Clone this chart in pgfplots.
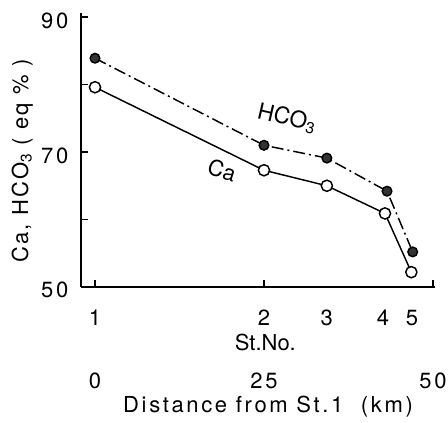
\documentclass[border=0pt]{standalone}
\usepackage{pgfplots}
\pgfplotsset{compat=1.18}
\usepackage{fontspec}
\setmainfont{TeX Gyre Heros}
\newfontfamily\spaced[LetterSpace=12]{TeX Gyre Heros}
\newfontfamily\spacedb[LetterSpace=10]{TeX Gyre Heros}
\newcommand\fs{\fontsize{16.5}{19}\selectfont}
\tikzset{stlab/.style={font=\fs\spaced, anchor=base, yshift=-28.5pt}}
\begin{document}
\begin{tikzpicture}
\useasboundingbox (-60.75pt,-102pt) rectangle (275.25pt,215.25pt);
\begin{axis}[
  at={(0,0)}, anchor=south west,
  scale only axis, width=265.5pt, height=205.5pt,
  xmin=-2.07, xmax=50.3, ymin=50, ymax=90.6,
  axis lines=left, axis line style={-, line width=1.2pt},
  clip=false,
  xtick={0,25,50}, xticklabels={0,25,50},
  xticklabel style={anchor=base, yshift=-75.75pt},
  ytick={50,60,70,80,90}, yticklabels={50,,70,,90},
  yticklabel style={anchor=base east, xshift=-6pt, yshift=-8.25pt},
  tick align=inside, major tick length=5pt,
  tick style={line width=1.1pt, black},
  every tick label/.append style={font=\fs\spaced},
  /pgf/number format/assume math mode=true,
]
\addplot[black, line width=1.1pt, dash pattern=on 9pt off 3pt on 1.5pt off 3pt,
  mark=*, mark size=3.6pt, mark options={solid, fill=black!80}]
  coordinates {(0,83.9) (25,71.0) (34.3,69.1) (43.2,64.2) (47.0,55.2)};
\addplot[black, line width=1.1pt,
  mark=*, mark size=4.2pt, mark options={solid, fill=white, line width=1.1pt}]
  coordinates {(0,79.6) (25,67.3) (34.3,65.0) (42.9,60.9) (46.8,52.2)};
\node[rotate=-13, font=\fontsize{17}{19}\selectfont] at (axis cs:28.4,75.0) {HCO\textsubscript{3}};
\node[rotate=-18, font=\fontsize{16.5}{19}\selectfont] at (axis cs:18.8,67.3) {Ca};
\node[stlab] at (axis cs:0,50) {1};
\node[stlab] at (axis cs:25,50) {2};
\node[stlab] at (axis cs:34.3,50) {3};
\node[stlab] at (axis cs:42.6,50) {4};
\node[stlab] at (axis cs:46.9,50) {5};
\node[font=\fs, anchor=base, yshift=-47.25pt] at (axis cs:25.2,50) {St.No.};
\node[font=\fs\spaced, anchor=base, yshift=-93.75pt] at (axis cs:25.6,50) {Distance from St.1\ \ (km)};
\node[rotate=90, font=\fs\spacedb] at ([xshift=-44pt]rel axis cs:0,0.46) {Ca, HCO\textsubscript{3} ( eq \% )};
\end{axis}
\end{tikzpicture}
\end{document}
